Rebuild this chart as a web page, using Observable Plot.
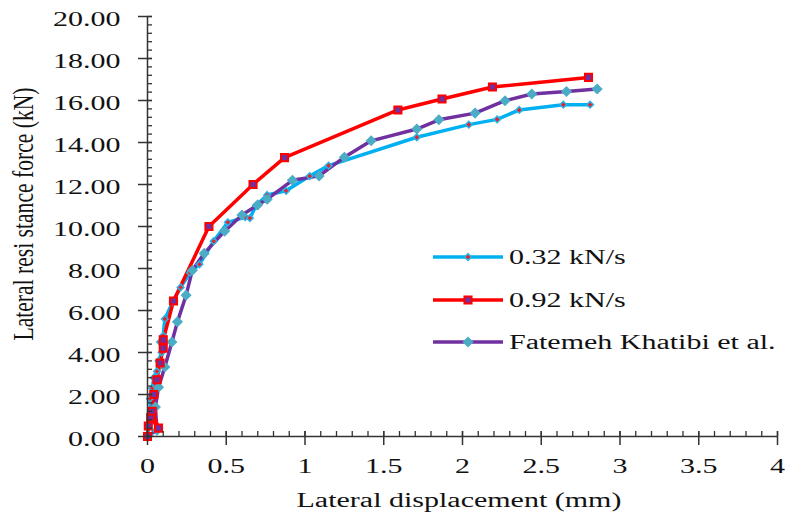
<!DOCTYPE html>
<html>
<head>
<meta charset="utf-8">
<script src="https://cdn.jsdelivr.net/npm/d3@7"></script>
<script src="https://cdn.jsdelivr.net/npm/@observablehq/plot@0.6"></script>
<style>
  body { margin: 0; background: #fff; }
  #chart svg { display: block; }
</style>
</head>
<body>
<div id="chart"></div>
<script>
// ---- Data ----
const seriesNames = ["0.32 kN/s", "0.92 kN/s", "Fatemeh Khatibi et al."];

const slowX = [0, 0.01, 0.02, 0.015, 0.03, 0.04, 0.06, 0.07, 0.09, 0.08, 0.10, 0.11, 0.16, 0.21, 0.27, 0.33, 0.42, 0.51, 0.62, 0.65, 0.69, 0.76, 0.88, 1.03, 1.15, 1.71, 2.04, 2.22, 2.36, 2.64, 2.81];
const slowY = [0, 0.6, 1.2, 1.8, 2.3, 2.8, 3.1, 3.6, 4.0, 4.5, 4.8, 5.6, 6.4, 7.1, 7.8, 8.2, 9.3, 10.2, 10.45, 10.4, 11.0, 11.5, 11.7, 12.4, 12.9, 14.25, 14.85, 15.1, 15.55, 15.8, 15.8];

const fastX = [0, 0.005, 0.02, 0.07, 0.03, 0.04, 0.06, 0.08, 0.10, 0.10, 0.165, 0.39, 0.67, 0.87, 1.59, 1.87, 2.19, 2.80];
const fastY = [0, 0.5, 0.9, 0.4, 1.2, 2.0, 2.7, 3.5, 4.2, 4.6, 6.45, 10.0, 12.0, 13.28, 15.55, 16.07, 16.64, 17.1];

const khatX = [0.005, 0.06, 0.05, 0.07, 0.11, 0.155, 0.19, 0.245, 0.285, 0.36, 0.49, 0.60, 0.70, 0.76, 0.92, 1.09, 1.25, 1.42, 1.71, 1.85, 2.08, 2.27, 2.44, 2.66, 2.855];
const khatY = [0.05, 0.3, 1.4, 2.35, 3.31, 4.5, 5.46, 6.73, 7.92, 8.72, 9.78, 10.55, 11.03, 11.3, 12.2, 12.41, 13.3, 14.08, 14.64, 15.08, 15.4, 15.99, 16.31, 16.43, 16.55];

const xTicks = [0, 0.5, 1, 1.5, 2, 2.5, 3, 3.5, 4];
const xTickLabels = ["0", "0.5", "1", "1.5", "2", "2.5", "3", "3.5", "4"];
const yTicks = [0, 2, 4, 6, 8, 10, 12, 14, 16, 18, 20];
const yTickLabels = ["0.00", "2.00", "4.00", "6.00", "8.00", "10.00", "12.00", "14.00", "16.00", "18.00", "20.00"];
const xMinor = d3.range(0, 41).map(i => i / 10);
const yMinor = d3.range(0, 51).map(i => i * 0.4);

const xTitle = "Lateral displacement (mm)";
const yTitle = "Lateral resi stance force (kN)";

// ---- Build tables ----
const toRows = (xs, ys) => xs.map((x, i) => ({x, y: ys[i]}));
const slow = toRows(slowX, slowY);
const fast = toRows(fastX, fastY);
const khat = toRows(khatX, khatY);
const xLabelMap = new Map(xTicks.map((t, i) => [t, xTickLabels[i]]));
const yLabelMap = new Map(yTicks.map((t, i) => [t, yTickLabels[i]]));

const CYAN = "#00b0f0", RED = "#ff0000", PURPLE = "#7030a0", TEAL = "#4bacc6", AXIS = "#333";
const SX = 1.5; // horizontal text stretch seen in the reference

const plot = Plot.plot({
  width: 785,
  height: 516,
  marginLeft: 147,
  marginRight: 8,
  marginTop: 16,
  marginBottom: 80,
  style: {fontFamily: "'Liberation Serif', 'Times New Roman', serif", fontSize: "20px", color: "#111", background: "#fff"},
  x: {domain: [0, 4], label: null},
  y: {domain: [0, 20], label: null},
  marks: [
    Plot.line(slow, {x: "x", y: "y", stroke: CYAN, strokeWidth: 3.5}),
    Plot.line(khat, {x: "x", y: "y", stroke: PURPLE, strokeWidth: 3.5}),
    Plot.line(fast, {x: "x", y: "y", stroke: RED, strokeWidth: 3.5}),
    Plot.dot(slow, {x: "x", y: "y", symbol: "diamond2", r: 3, fill: "#e8212a", stroke: "#2ab3e6", strokeWidth: 1.5}),
    Plot.dot(khat, {x: "x", y: "y", symbol: "diamond2", r: 5, fill: TEAL}),
    Plot.dot(fast, {x: "x", y: "y", symbol: "square", r: 4, fill: PURPLE, stroke: RED, strokeWidth: 2}),
    Plot.ruleX([0], {stroke: AXIS, strokeWidth: 1.5}),
    Plot.ruleY([0], {stroke: AXIS, strokeWidth: 1.5}),
    Plot.axisX(xMinor, {tickSize: 5, dy: -5, fill: "none", stroke: AXIS, strokeWidth: 1.3, label: null, tickFormat: () => ""}),
    Plot.axisX(xTicks, {tickSize: 14, dy: -5, fill: "none", stroke: AXIS, strokeWidth: 1.5, label: null, tickFormat: () => ""}),
    Plot.axisX(xTicks, {tickSize: 0, tickPadding: 22, label: null, tickFormat: d => xLabelMap.get(d)}),
    Plot.axisY(yMinor, {tickSize: 5, dx: 5, fill: "none", stroke: AXIS, strokeWidth: 1.3, label: null, tickFormat: () => ""}),
    Plot.axisY(yTicks, {tickSize: 14, dx: 5, fill: "none", stroke: AXIS, strokeWidth: 1.5, label: null, tickFormat: () => ""}),
    Plot.axisY(yTicks, {tickSize: 0, tickPadding: 27, dy: 3, label: null, tickFormat: d => yLabelMap.get(d)})
  ]
});

document.getElementById("chart").appendChild(plot);
const svg = d3.select(plot);

// Axis titles
svg.append("text")
  .attr("x", 459).attr("y", 507)
  .attr("text-anchor", "middle")
  .attr("fill", "#111")
  .style("font-size", "20px")
  .text(xTitle);

svg.append("text")
  .attr("transform", "translate(33,214) rotate(-90) scale(1,1.45)")
  .attr("text-anchor", "middle")
  .attr("fill", "#111")
  .attr("textLength", 253)
  .attr("lengthAdjust", "spacingAndGlyphs")
  .style("font-size", "20px")
  .text(yTitle);

// Legend
const legendItems = [
  {name: seriesNames[0], stroke: CYAN, y: 257, sym: "slow"},
  {name: seriesNames[1], stroke: RED, y: 300, sym: "fast"},
  {name: seriesNames[2], stroke: PURPLE, y: 342, sym: "khat"}
];
const lg = svg.append("g");
legendItems.forEach(it => {
  const g = lg.append("g");
  g.append("line").attr("x1", 433).attr("x2", 503).attr("y1", it.y).attr("y2", it.y)
    .attr("stroke", it.stroke).attr("stroke-width", 3.5);
  const cx = 468;
  if (it.sym === "slow") {
    g.append("path").attr("d", d3.symbol(d3.symbolDiamond2, Math.PI * 9)())
      .attr("transform", `translate(${cx},${it.y})`).attr("fill", "#e8212a").attr("stroke", "#2ab3e6").attr("stroke-width", 1.5);
  } else if (it.sym === "fast") {
    g.append("path").attr("d", d3.symbol(d3.symbolSquare, Math.PI * 16)())
      .attr("transform", `translate(${cx},${it.y})`).attr("fill", PURPLE).attr("stroke", RED).attr("stroke-width", 2);
  } else {
    g.append("path").attr("d", d3.symbol(d3.symbolDiamond2, Math.PI * 25)())
      .attr("transform", `translate(${cx},${it.y})`).attr("fill", TEAL);
  }
  g.append("text").attr("x", 509).attr("y", it.y + 7)
    .attr("text-anchor", "start")
    .attr("fill", "#111").style("font-size", "20px").text(it.name);
});

// Horizontal stretch of horizontal texts
svg.selectAll("text").each(function() {
  if (this.getAttribute("textLength")) return;
  const len = this.getComputedTextLength();
  if (len > 0) {
    this.setAttribute("textLength", (len * SX).toFixed(1));
    this.setAttribute("lengthAdjust", "spacingAndGlyphs");
  }
});
</script>
</body>
</html>
